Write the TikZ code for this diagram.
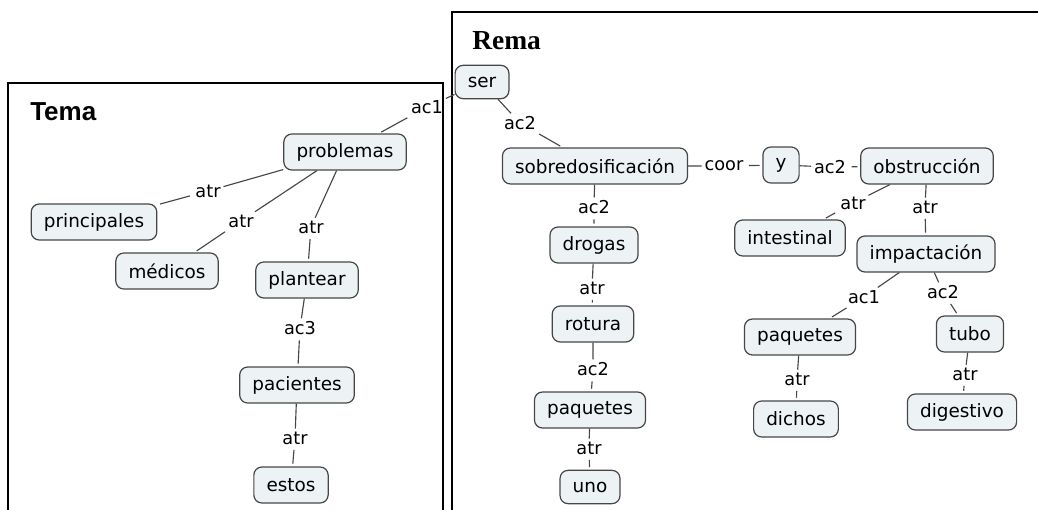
\documentclass[tikz,border=0pt]{standalone}
\usepackage{fontspec}
\setmainfont{DejaVu Sans}
\newfontfamily\temafont{Liberation Sans}
\newfontfamily\remafont{Liberation Serif}

\definecolor{cmapfill}{RGB}{237,242,245}
\definecolor{cmapline}{RGB}{70,70,70}

\tikzset{
  concept/.style={draw=cmapline, fill=cmapfill, line width=0.9pt, rounded corners=6pt,
    minimum height=27pt, inner xsep=9.5pt, inner ysep=0pt,
    font=\fontsize{13.8}{16}\selectfont},
  lab/.style={inner sep=2pt, font=\fontsize{13.3}{15}\selectfont},
  link/.style={draw=cmapline, line width=0.85pt, shorten <=2pt, shorten >=2pt},
  frame/.style={line width=1.4pt}
}

\begin{document}
\begin{tikzpicture}[x=0.75pt,y=-0.75pt]
\useasboundingbox (0,0) rectangle (1038,510);

% marcos
\draw[frame] (8,510) -- (8,83) -- (443,83) -- (443,510);
\draw[frame] (452,510) -- (452,12) -- (1038,12);
\node[anchor=base west, inner sep=0pt, font=\temafont\bfseries\fontsize{19.5}{22}\selectfont] (tema) at (30,120) {Tema};
\node[anchor=base west, inner sep=0pt, font=\remafont\bfseries\fontsize{20.6}{24}\selectfont] (rema) at (472,50) {Rema};

% conceptos
\node[concept] (problemas) at (345,152) {problemas};
\node[concept] (principales) at (94,222) {principales};
\node[concept] (medicos) at (167,271) {médicos};
\node[concept] (plantear) at (307,280) {plantear};
\node[concept] (pacientes) at (297,385) {pacientes};
\node[concept] (estos) at (291,485) {estos};

\node[concept, minimum height=25pt] (ser) at (482,82) {ser};
\node[concept] (sobredos) at (595,166) {sobredosificación};
\node[concept] (conj) at (781,165) {y};
\node[concept] (obstruccion) at (927,166) {obstrucción};
\node[concept] (drogas) at (594,245) {drogas};
\node[concept] (rotura) at (593,324) {rotura};
\node[concept] (paquetesA) at (590,410) {paquetes};
\node[concept, minimum height=25pt] (uno) at (590,487) {uno};
\node[concept] (intestinal) at (790,238) {intestinal};
\node[concept] (impactacion) at (926,254) {impactación};
\node[concept] (paquetesB) at (800,337) {paquetes};
\node[concept] (tubo) at (970,334) {tubo};
\node[concept] (dichos) at (796,419) {dichos};
\node[concept] (digestivo) at (962,412) {digestivo};

% relaciones
\node[lab] (acA) at (427,107) {ac1};
\node[lab] (atrA) at (208,191) {atr};
\node[lab] (atrB) at (241,221) {atr};
\node[lab] (atrC) at (311,227) {atr};
\node[lab] (acB) at (300,328) {ac3};
\node[lab] (atrD) at (295,438) {atr};

\node[lab] (acC) at (520,123) {ac2};
\node[lab] (coor) at (724,166) {coor};
\node[lab] (acD) at (830,167) {ac2};
\node[lab] (acE) at (594,207) {ac2};
\node[lab] (atrE) at (592,288) {atr};
\node[lab] (acF) at (593,369) {ac2};
\node[lab] (atrF) at (589,448) {atr};
\node[lab] (atrG) at (853,203) {atr};
\node[lab] (atrH) at (925,207) {atr};
\node[lab] (acG) at (864,297) {ac1};
\node[lab] (acH) at (943,292) {ac2};
\node[lab] (atrI) at (797,379) {atr};
\node[lab] (atrJ) at (965,374) {atr};

\draw[link] (ser) -- (acA) -- (problemas);
\draw[link] (problemas) -- (atrA) -- (principales);
\draw[link] (problemas) -- (atrB) -- (medicos);
\draw[link] (problemas) -- (atrC) -- (plantear);
\draw[link] (plantear) -- (acB) -- (pacientes);
\draw[link] (pacientes) -- (atrD) -- (estos);

\draw[link] (ser) -- (acC) -- (sobredos);
\draw[link] (sobredos) -- (coor) -- (conj);
\draw[link] (conj) -- (acD) -- (obstruccion);
\draw[link] (sobredos) -- (acE) -- (drogas);
\draw[link] (drogas) -- (atrE) -- (rotura);
\draw[link] (rotura) -- (acF) -- (paquetesA);
\draw[link] (paquetesA) -- (atrF) -- (uno);
\draw[link] (obstruccion) -- (atrG) -- (intestinal);
\draw[link] (obstruccion) -- (atrH) -- (impactacion);
\draw[link] (impactacion) -- (acG) -- (paquetesB);
\draw[link] (impactacion) -- (acH) -- (tubo);
\draw[link] (paquetesB) -- (atrI) -- (dichos);
\draw[link] (tubo) -- (atrJ) -- (digestivo);
\end{tikzpicture}
\end{document}
